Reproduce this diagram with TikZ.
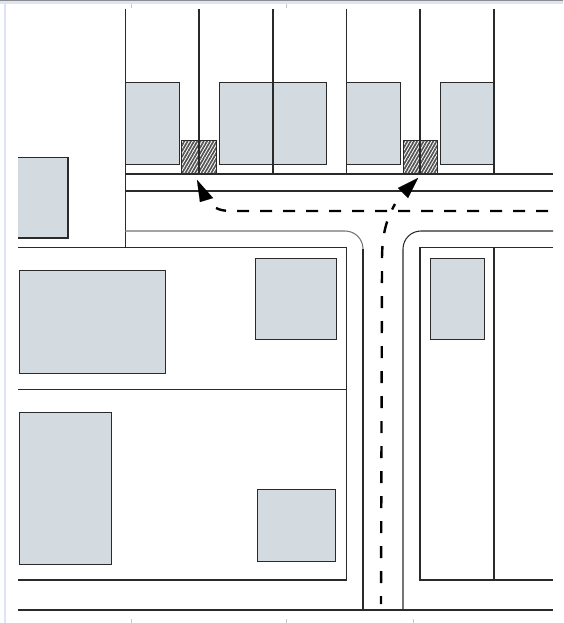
\documentclass[tikz,border=0pt]{standalone}
\usetikzlibrary{patterns.meta,arrows.meta}
\definecolor{bldg}{HTML}{D3DBE0}
\definecolor{framec}{HTML}{DCE4F5}
\definecolor{edgec}{HTML}{2A2A2A}
\tikzset{
  x=1pt,y=-1pt,
  road/.style={line width=1.05pt,draw=edgec},
  bldgbox/.style={fill=bldg,draw=edgec,line width=1pt},
  hatchbox/.style={draw=edgec,line width=1pt,pattern={Lines[angle=60,distance=2.8pt,line width=1.7pt]},pattern color=black!68},
  routeh/.style={line width=2.4pt,draw=black,dash pattern=on 12pt off 11pt},
  routev/.style={line width=2.4pt,draw=black,dash pattern=on 12pt off 13pt,dash phase=4pt},
  tipline/.style={line width=0.1pt,draw=black,fill=black},
  tick/.style={line width=1pt,draw=black!22}
}
\begin{document}
\begin{tikzpicture}
\useasboundingbox (0,0) rectangle (563,623);
\fill[white] (0,0) rectangle (563,623);
\fill[framec] (0,1) rectangle (563,4);
\fill[framec] (4,1) rectangle (6,623);
\fill[black!45] (0,0) rectangle (563,1);
\foreach \tx in {131,286} \draw[tick] (\tx,4) -- (\tx,8);
\foreach \tx in {131,286,413} \draw[tick] (\tx,619) -- (\tx,623);
% buildings
\draw[bldgbox] (125.5,83) rectangle (179.5,164);
\draw[bldgbox] (219.5,83) rectangle (326,164);
\draw[bldgbox] (346.5,83) rectangle (400,164);
\draw[bldgbox] (440.5,83) rectangle (494,164);
\fill[bldg] (18,158) rectangle (67.5,237.5);
\draw[road] (18,157.5) -- (68,157.5) -- (68,238) -- (18,238);
\draw[bldgbox] (19,270.5) rectangle (165.5,373);
\draw[bldgbox] (255.5,258) rectangle (336.5,339);
\draw[bldgbox] (430.5,258) rectangle (484,339);
\draw[bldgbox] (19,412) rectangle (111.5,564);
\draw[bldgbox] (257,489) rectangle (335,561.5);
% hatched squares
\draw[hatchbox] (181,140) rectangle (216,174.5);
\draw[hatchbox] (403,140) rectangle (437.5,174.5);
% road and lot lines
\foreach \vx in {199,273,346.5,420,494} \draw[road] (\vx,9) -- (\vx,174);
\draw[road] (125.5,9) -- (125.5,247);
\draw[road] (125,174) -- (553,174);
\draw[road] (125,191) -- (553,191);
\draw[road,draw=black!55] (125,231) -- (345,231) .. controls (355,231) and (363,239) .. (363,249);
\draw[road] (363,249) -- (363,610);
\draw[road] (553,231) -- (421,231) .. controls (411,231) and (403,239) .. (403,249) -- (403,610);
\draw[road] (18,247.5) -- (346.5,247.5) -- (346.5,580) -- (18,580);
\draw[road] (18,389.5) -- (346.5,389.5);
\draw[road] (553,247.5) -- (420,247.5) -- (420,580) -- (553,580);
\draw[road] (494,247.5) -- (494,580);
\draw[road] (18,610) -- (553,610);
% routes
\coordinate (startA) at (548,211);
\coordinate (startB) at (381,604);
\draw[routeh] (startA) -- (232,211) .. controls (224,211) and (220,210) .. (216,208);
\draw[routev] (startB) -- (382,260) .. controls (382,235) and (386,220) .. (395,204);
\fill[tipline] (197,180) -- (213,198) -- (200,202) -- cycle;
\fill[tipline] (418,178) -- (398,188) -- (408,198) -- cycle;
\end{tikzpicture}
\end{document}
